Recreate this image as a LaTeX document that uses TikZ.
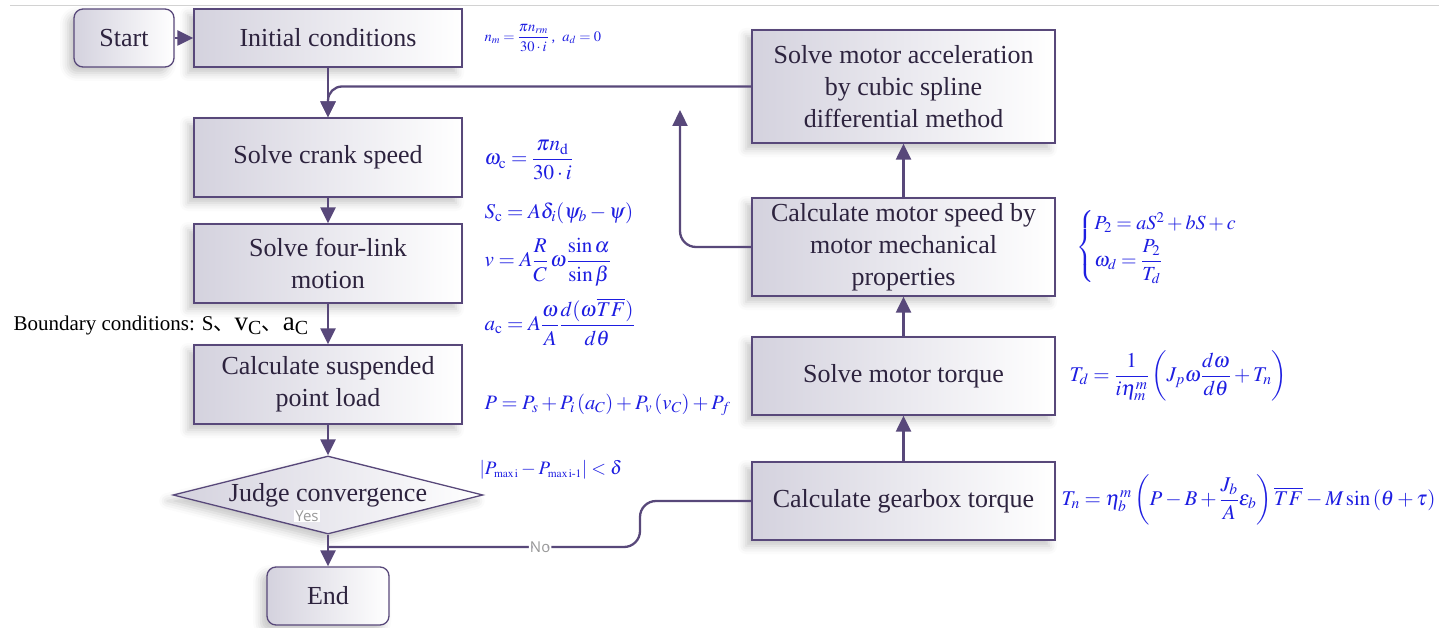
\documentclass[tikz,border=0pt]{standalone}
\usepackage{amsmath}
\usepackage{mathptmx}
\usepackage{fontspec}
\setmainfont{Liberation Serif}
\newfontfamily\lblfont{Open Sans}
\newfontfamily\cjk{Noto Sans CJK SC}
\usetikzlibrary{arrows.meta,shapes.geometric,shadows.blur}

\definecolor{lineC}{RGB}{88,72,122}
\definecolor{txtC}{RGB}{45,35,62}
\definecolor{boxL}{RGB}{212,210,222}
\definecolor{eqC}{RGB}{30,30,225}

\begin{document}
\begin{tikzpicture}[
  x=1pt,y=-1pt,
  every node/.style={text=txtC,font=\fontsize{26}{32}\selectfont},
  box/.style={draw=lineC,line width=1.3pt,left color=boxL,right color=white,align=center,
    minimum width=268pt,minimum height=79pt,inner ysep=3pt,
    blur shadow={shadow xshift=-6pt,shadow yshift=-6pt,shadow blur radius=8pt,shadow opacity=22}},
  term/.style={box,rounded corners=9pt,minimum width=100pt,minimum height=58pt},
  judge/.style={box,diamond,aspect=4,minimum width=310pt,minimum height=78pt,inner sep=1pt},
  rbox/.style={box,minimum width=303pt},
  eq/.style={anchor=west,text=eqC,font=\fontsize{21}{24}\selectfont},
  arr/.style={draw=lineC,line width=2.3pt,-{Triangle[length=16pt,width=15pt]}},
  lnk/.style={draw=lineC,line width=2.3pt},
  lbl/.style={fill=white,text=gray!80,font=\lblfont\fontsize{15}{15}\selectfont,inner sep=1pt}
]
  \useasboundingbox (0,0) rectangle (1439,628);
  \draw[gray!35,line width=1pt] (10,6) -- (1439,6);

  % left column
  \node[term] (start) at (124,38) {Start};
  \node[box,minimum height=58pt] (init) at (328,38) {Initial conditions};
  \node[box] (crank) at (328,157.5) {Solve crank speed};
  \node[box] (four) at (328,263.5) {Solve four-link\\motion};
  \node[box] (load) at (328,384.5) {Calculate suspended\\point load};
  \node[judge] (judge) at (328,495) {Judge convergence};
  \node[term,minimum width=122pt] (end) at (328,596) {End};

  % right column
  \node[rbox,minimum height=113pt] (acc) at (903.5,86.5) {Solve motor acceleration\\by cubic spline\\differential method};
  \node[rbox,minimum height=98pt] (speed) at (903.5,247) {Calculate motor speed by\\motor mechanical\\properties};
  \node[rbox,minimum height=78pt] (torque) at (903.5,376) {Solve motor torque};
  \node[rbox,minimum height=78pt] (gear) at (903.5,501) {Calculate gearbox torque};

  % formulas
  \node[eq,font=\fontsize{14.5}{16}\selectfont] (e0) at (481,38) {$n_m=\dfrac{\pi n_{rm}}{30\cdot i}$\,,\ \ $a_d=0$};
  \node[eq] (e1) at (481,160) {$\omega_{\mathrm{c}}=\dfrac{\pi n_{\mathrm{d}}}{30\cdot i}$};
  \node[eq] (e2) at (481,213) {$S_{\mathrm{c}}=A\delta_i(\psi_b-\psi)$};
  \node[eq] (e3) at (481,262) {$v=A\dfrac{R}{C}\,\omega\dfrac{\sin\alpha}{\sin\beta}$};
  \node[eq] (e4) at (481,322) {$a_{\mathrm{c}}=A\dfrac{\omega}{A}\dfrac{d(\omega\overline{TF})}{d\theta}$};
  \node[eq,font=\fontsize{20.5}{24}\selectfont] (e5) at (481,405) {$P=P_s+P_i\left(a_C\right)+P_v\left(v_C\right)+P_f$};
  \node[eq,font=\fontsize{19}{22}\selectfont] (e6) at (476,470) {$\left|P_{\scriptscriptstyle\mathrm{max\,i}}-P_{\scriptscriptstyle\mathrm{max\,i\text{-}1}}\right|<\delta$};
  \node[eq,font=\fontsize{20}{23}\selectfont] (e7) at (1073,247) {$\begin{cases} P_2=aS^2+bS+c\\[2pt] \omega_d=\dfrac{P_2}{T_d}\end{cases}$};
  \node[eq] (e8) at (1066,376) {$T_d=\dfrac{1}{i\eta_m^m}\left(J_p\omega\dfrac{d\omega}{d\theta}+T_n\right)$};
  \node[eq] (e9) at (1058,500) {$T_n=\eta_b^m\left(P-B+\dfrac{J_b}{A}\varepsilon_b\right)\overline{TF}-M\sin\left(\theta+\tau\right)$};

  \node[anchor=west,text=black,font=\fontsize{21}{24}\selectfont] (bnd) at (10,325)
    {Boundary conditions: S{\cjk 、}{\fontsize{27}{27}\selectfont v\textsubscript{C}}{\cjk 、}{\fontsize{27}{27}\selectfont a\textsubscript{C}}};

  % connectors
  \coordinate (nojoin) at (328,547);
  \coordinate (bend) at (640,547);
  \coordinate (uptip) at (680,110);
  \draw[arr] (start) -- (init);
  \draw[arr] (init) -- (crank);
  \draw[arr,rounded corners=14pt] (acc.west) -| (crank.north);
  \draw[arr] (crank) -- (four);
  \draw[arr] (four) -- (load);
  \draw[arr] (load) -- (judge);
  \draw[arr] (judge) -- (end);
  \draw[lnk,rounded corners=16pt] (gear.west) -| (bend) -- node[lbl,pos=.32] (no) {No} (nojoin);
  \draw[arr] (gear) -- (torque);
  \draw[arr] (torque) -- (speed);
  \draw[arr] (speed) -- (acc);
  \draw[arr,rounded corners=16pt] (speed.west) -| (uptip);

  \node[lbl] (yes) at (307,516) {Yes};
\end{tikzpicture}
\end{document}
